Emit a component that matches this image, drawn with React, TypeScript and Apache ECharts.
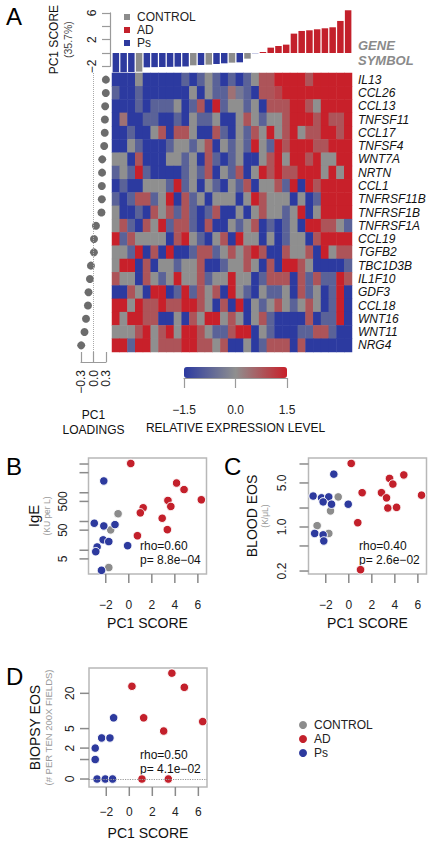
import React, { useEffect, useRef } from "react";
import * as echarts from "echarts";

const FONT = '"Liberation Sans", Arial, Helvetica, sans-serif';
const BLUE = "#2d3a9e";
const RED = "#c3202b";
const GRAY = "#8c8c8c";
const AXIS = "#9a9a9a";
const TICK = "#8a8a8a";
const BOX = "#b8b8b8";
const GROUP_COLORS: Record<string, string> = { CONTROL: GRAY, AD: RED, Ps: BLUE };
const GROUPS = ["CONTROL", "AD", "Ps"];

// PC1 scores of the 31 samples, sorted
const pc1Scores = [
  -2.9, -2.88, -2.85, -2.8, -2.15, -2.12, -2.1, -2.08, -2.05, -2.02, -1.85, -1.8, -1.75, -1.65, -1.55,
  -1.45, -1.4, -0.85, -0.05, 0.15, 0.8, 1.05, 1.25, 2.9, 3.3, 3.4, 3.55, 3.7, 3.85, 4.8, 6.4,
];
const sampleGroups = [
  "Ps", "Ps", "Ps", "CONTROL", "Ps", "Ps", "Ps", "Ps", "Ps", "Ps", "CONTROL", "Ps", "CONTROL", "Ps", "Ps",
  "CONTROL", "Ps", "CONTROL", "Ps", "AD", "AD", "AD", "AD", "AD", "AD", "AD", "AD", "AD", "AD", "AD", "AD",
];
const barLabels = [-2, 2, 6];

const genes = [
  "IL13", "CCL26", "CCL13", "TNFSF11", "CCL17", "TNFSF4", "WNT7A", "NRTN", "CCL1", "TNFRSF11B",
  "TNFRSF1B", "TNFRSF1A", "CCL19", "TGFB2", "TBC1D3B", "IL1F10", "GDF3", "CCL18", "WNT16", "WNT11", "NRG4",
];
const loadings = [
  0.297, 0.295, 0.28, 0.273, 0.27, 0.257, 0.21, 0.205, 0.2, 0.2, 0.19, 0.058, 0.012, 0.01, -0.062, -0.086,
  -0.12, -0.134, -0.18, -0.216, -0.295,
];

// relative expression (rows = genes, columns = samples)
const expr: number[][] = [
  [-1.5, -1.5, -1.5, 0, -1.5, -1.5, -1.5, -1.5, -1.5, -0.8, -1.5, -0.8, 0, -0.8, -1.5, -0.8, -1.5, -0.8, 0, 0.8, 0.8, 1.5, 1.5, 1.5, 1.5, 0.8, 1.5, 1.5, 1.5, 1.5, 1.5],
  [-0.8, -1.5, -1.5, -0.8, -1.5, -1.5, -1.5, -1.5, -1.5, -1.5, 0, -1.5, 0, -0.8, -0.8, 0.4, -0.4, -0.8, -1.5, 0.8, 0.8, 1.0, 1.5, 1.5, 1.5, 1.5, 1.5, 1.5, 1.5, 1.5, 1.5],
  [-1.5, -1.5, -1.5, -0.8, -1.5, -0.8, -0.8, -0.8, 0, -1.5, -0.8, 0.8, -1.5, 1.5, -0.8, 0, 0, -0.8, 0, -1.5, 0.8, 0.8, 0.8, 1.5, 1.5, 0.8, 0, 1.5, 1.5, 1.5, 1.5],
  [-1.5, 0.4, -1.5, -1.5, -0.8, -0.8, -1.5, -1.5, -0.8, -1.5, 0, -0.8, -0.8, 0, -1.5, -1.5, 0, 0.8, 0, -0.8, 0, 0, 0.8, 1.5, 1.5, 1.5, 0.8, 1.5, 0.8, 0.8, 1.5],
  [-1.5, -1.5, -0.8, -1.5, -1.5, 0, 0.8, -1.5, 0.8, 0.8, 0, -1.5, -1.5, 0.8, -0.8, -1.5, 0, -0.8, 0.8, 0, 1.5, 0, 0.8, 1.5, 0, 0.8, 0.8, 1.5, 1.5, 0.8, 1.5],
  [-1.5, -1.5, 0, -0.8, -1.5, -1.5, -1.5, -0.8, 0, 0, -0.8, 0, 0.8, -1.5, 0, -0.8, 0, -0.8, 1.5, 0, -0.8, 1.5, 0.8, 1.5, 1.5, 1.5, 0.8, 0.8, 1.5, 1.5, 1.5],
  [0, 0, -1.5, 0.8, -1.5, -1.5, -1.5, 0, 0, -0.8, 0, -1.5, 0.8, -0.8, -1.5, -0.8, 0, -1.5, -1.5, 0, 0.8, 1.5, 0, 1.5, 1.5, 0.8, 1.5, 0, 0, 1.5, 1.5],
  [-0.8, 0, -0.8, 1.5, -0.8, -1.5, -1.5, -1.5, -1.5, -0.8, 0, -0.8, 0.8, -1.5, 0, -0.8, 0.8, -1.5, 0, 1.5, 0.8, 1.5, 0.8, 0.8, 1.5, 1.5, 1.5, 0, 1.5, 0, 1.5],
  [-1.5, -0.8, -1.5, -1.5, 0, 0, 0, -0.8, 1.5, -0.8, 0, -1.5, 0, -0.8, -1.5, 0, -0.8, 0.8, -1.5, 0, 0, 0.8, -0.8, 1.5, -1.5, 1.5, 0.8, 1.5, 1.5, 1.5, 1.5],
  [-0.8, -1.5, -0.8, 0.8, 0.8, -0.8, 0, 1.5, -1.5, 0.8, -0.8, 0, -1.5, 0, 0, 0, -1.5, 0, 1.5, 0.8, 0, 0, 0, -1.5, 0, -1.5, -0.8, 1.5, 1.5, 1.5, 1.5],
  [0, -1.5, -1.5, -0.8, -1.5, 0.8, 0, 0.8, -0.8, 0.8, -0.8, -1.5, -0.8, 0.8, -1.5, -1.5, 0, -1.5, 0, 0.8, 0, 0, -0.8, 0, 1.5, -1.5, 0, 1.5, 1.5, 1.5, 1.5],
  [0, 0.8, -0.8, -1.5, 0.8, 0, 1.5, -0.8, 0.8, 0.8, -0.8, -1.5, 0.8, -1.5, -1.5, 0, -0.8, 0, 0.8, -1.5, -0.8, -1.5, -0.8, 0, -1.5, 1.5, 1.5, 0.8, 0.8, 0, -0.8],
  [1.5, -0.8, 0.8, 0, 0, 0, 0, -1.5, 0.8, 1.5, 0, -0.8, -1.5, 0, 0.8, -1.5, 1.5, 0, 0, -1.5, 0, -1.5, -0.8, 0, 0, -1.5, 0.8, 1.5, 1.5, 1.5, 1.5],
  [0, 0, -0.8, 1.5, -1.5, 0.8, -1.5, 1.5, -1.5, -1.5, -0.8, 0.8, 0.8, -0.8, 0, 0.8, 0, 0.8, 1.5, 0.8, -1.5, -1.5, 0.8, 0, 0, 0.8, -1.5, 1.5, 0, 0.8, 0.8],
  [0, 1.5, 1.5, -1.5, 0.8, -1.5, 0, 0, -0.8, 0, 0, 0.8, -1.5, -1.5, -0.8, 0, 0, 0.8, 0, -1.5, 0.8, -1.5, 1.5, 1.5, 0.8, 0, -1.5, -1.5, -1.5, -1.5, -0.8],
  [0.8, 0, 0, -1.5, 0.8, 0, -0.8, 0, 1.5, 0, 0, 0.8, -0.8, 0, 0, 1.5, 0, 0, -1.5, -0.8, 0.8, 0.8, 0.8, -1.5, 0.8, -0.8, 0.8, -0.8, -0.8, 1.5, 0.8],
  [-1.5, -1.5, 0.8, 0, -1.5, 1.5, 1.5, -1.5, -0.8, 1.5, -0.8, 0.8, 0, 0.8, -1.5, 1.5, 0, -0.8, -1.5, 0, -0.8, -0.8, 0, -1.5, 0.8, -0.8, 0, -1.5, -0.8, 1.5, -1.5],
  [1.5, 1.5, 0, 1.5, 0.8, 0.8, 1.5, 0.8, 0.8, 1.5, 1.5, 0.8, 0, -1.5, 0.8, -1.5, 1.5, -1.5, 0, -0.8, 0, 0.8, 0, -0.8, 0, 0.8, 0, -1.5, -0.8, 1.5, -1.5],
  [1.5, 0, 1.5, 1.5, 0.8, 0.8, -1.5, -1.5, 0, -1.5, 0.8, 0, 1.5, 1.5, 0, 0.8, 0, -1.5, 0, 0.8, -0.8, -1.5, -1.5, -1.5, -1.5, 0.8, -1.5, -0.8, -0.8, 1.5, -1.5],
  [0, 0, 0, 0.8, 1.5, 0, 0.8, 1.5, 0, 1.5, 1.5, 0.8, 0, -0.8, -0.8, 0.8, 1.5, 1.5, -1.5, 0, -0.8, -1.5, -1.5, -1.5, -0.8, -0.8, 0.8, 0.8, -0.8, -1.5, -1.5],
  [1.5, 1.5, -0.8, 1.5, 1.5, 0, 0.8, 0.8, 0.8, 1.5, 1.5, 0.8, 0.8, 0, 0.8, -1.5, -1.5, 0, -1.5, -0.8, 0.8, 0.8, 0.8, -1.5, 0.8, -1.5, -1.5, -1.5, -1.5, -1.5, -1.5],
];

// panel B: IgE (KU per L) vs PC1 score
const igeAD = [[0.17, 10450], [4.15, 2180], [4.8, 1290], [6.3, 570], [3.4, 540], [3.65, 334], [1.25, 300], [1.0, 200], [2.9, 130], [3.35, 52], [0.75, 32]];
const igePs = [[-2.17, 2570], [-3.0, 87], [-2.17, 70], [-1.2, 78], [-2.23, 23], [-1.74, 20], [-2.75, 13], [-2.87, 8.9], [-0.1, 14.4], [-2.37, 2.0]];
const igeControl = [[-0.93, 186], [-1.57, 51], [-1.74, 2.5]];
const igeTicks = [5, 10, 50, 100, 500, 1000, 5000, 10000];
const igeLabels = [5, 50, 500];

// panel C: blood eosinophils (K/uL)
const eosAD = [[0.21, 10.2], [4.78, 6.7], [3.54, 5.9], [3.83, 4.8], [1.16, 3.5], [2.84, 3.5], [3.28, 2.9], [6.32, 3.2], [3.39, 2.0], [4.15, 2.05], [0.78, 1.17], [1.02, 0.21]];
const eosPs = [[-1.3, 6.9], [-3.1, 3.1], [-2.37, 2.9], [-1.74, 3.0], [-2.23, 2.5], [-1.5, 2.3], [-0.05, 2.3], [-2.96, 0.79], [-2.23, 0.75], [-2.17, 0.6]];
const eosControl = [[-0.92, 3.0], [-1.59, 1.8], [-2.75, 1.05], [-1.74, 0.79]];
const eosTicks = [0.2, 0.5, 1, 2, 5, 10];
const eosLabels = [0.2, 1, 5];

// panel D: biopsy eosinophils (# per ten 200x fields)
const bioAD = [[3.7, 42], [0.23, 26], [4.78, 25], [1.25, 7.8], [6.38, 6.7], [2.99, 4.5], [1.1, 0], [3.39, 0]];
const bioPs = [[-1.36, 7.8], [-2.4, 3.3], [-1.68, 3.3], [-2.96, 2], [-2.96, 1], [-2.8, 0], [-2.09, 0], [-1.45, 0]];
const bioControl: number[][] = [];
const bioTicks = [0, 1, 2, 5, 20];
const bioLabels = [0, 2, 5, 20];

const scoreTicks = [-2, 0, 2, 4, 6];
const stats = [
  { panel: "B", rho: "rho=0.60", p: "p= 8.8e\u221204" },
  { panel: "C", rho: "rho=0.40", p: "p= 2.6e\u221202" },
  { panel: "D", rho: "rho=0.50", p: "p= 4.1e\u221202" },
];

const minus = (s: string) => s.replace("-", "\u2212");
const lg = (v: number) => Math.log10(v);
const lg1 = (v: number) => Math.log10(v + 1);

export default function App() {
  const ref = useRef<HTMLDivElement>(null);
  useEffect(() => {
    if (!ref.current) return;
    const chart = echarts.init(ref.current, null, { renderer: "svg" });

    const barGrid = { left: 112, top: 9.6, width: 240, height: 63.4 };
    const barMin = -3, barMax = 6.5;
    const pxPer = barGrid.height / (barMax - barMin);
    const axTop = barGrid.top + (barMax - 6) * pxPer;
    const axH = 8 * pxPer;

    const X_MIN = -3.5, X_MAX = 6.75;
    const yRanges: Record<number, [number, number]> = {
      5: [lg(1.49), lg(16200)],
      6: [-0.746, 1.095],
      7: [-0.123, 1.713],
    };

    const labelStyle = { color: "#222", fontSize: 12, fontFamily: FONT };

    const scatterX = (gi: number, gap: number, margin: number) => ({
      type: "value", gridIndex: gi, min: X_MIN, max: X_MAX, position: "bottom",
      axisLine: { show: false, onZero: false }, splitLine: { show: false }, axisTick: { show: false },
      axisLabel: { ...labelStyle, margin, customValues: scoreTicks, formatter: (v: number) => minus(String(v)) },
      name: "PC1 SCORE", nameLocation: "middle", nameGap: gap,
      nameTextStyle: { fontSize: 14, color: "#111", fontFamily: FONT },
    });
    const scatterY = (gi: number, labels: number[], fmt: (v: number) => string, name: string, gap: number, margin: number, big: number, small: number) => ({
      type: "value", gridIndex: gi, min: yRanges[gi][0], max: yRanges[gi][1], position: "left",
      axisLine: { show: false, onZero: false }, splitLine: { show: false }, axisTick: { show: false },
      axisLabel: { ...labelStyle, rotate: 90, margin, customValues: labels, formatter: fmt },
      name, nameLocation: "middle", nameRotate: 90, nameGap: gap,
      nameTextStyle: {
        fontFamily: FONT,
        rich: {
          a: { fontSize: big, color: "#111", fontFamily: FONT, lineHeight: big + 1 },
          b: { fontSize: small, color: "#999", fontFamily: FONT, lineHeight: small + 3 },
        },
      },
    });

    const scat = (name: string, gi: number, data: number[][], tf: (v: number) => number) => ({
      type: "scatter", name, xAxisIndex: gi, yAxisIndex: gi,
      data: data.map((d) => [d[0], tf(d[1])]),
      symbolSize: 8.5,
      itemStyle: { color: GROUP_COLORS[name], borderColor: "#fff", borderWidth: 1, opacity: 1 },
      z: 3,
    });

    const barSeries = ["Ps", "CONTROL", "AD"].map((g) => ({
      type: "bar", name: g, xAxisIndex: 0, yAxisIndex: 0, stack: "pc",
      data: pc1Scores.map((v, i) => (sampleGroups[i] === g ? v : "-")),
      itemStyle: { color: GROUP_COLORS[g] },
      barCategoryGap: "16%",
    }));

    const heatData: number[][] = [];
    expr.forEach((row, r) => row.forEach((v, c) => heatData.push([c, r, v])));

    const series: any[] = [
      ...barSeries,
      {
        type: "heatmap", xAxisIndex: 2, yAxisIndex: 2, data: heatData,
        itemStyle: { borderWidth: 0 }, emphasis: { disabled: true },
      },
      {
        type: "scatter", xAxisIndex: 3, yAxisIndex: 3,
        data: loadings.map((v, i) => [v, i]),
        symbolSize: 8, itemStyle: { color: "#474747" },
        markLine: {
          silent: true, symbol: "none", label: { show: false },
          lineStyle: { type: "dotted", color: "#aaa", width: 1 },
          data: [{ xAxis: 0 }],
        },
      },
      {
        type: "scatter", xAxisIndex: 7, yAxisIndex: 7, data: [], symbolSize: 0,
        markLine: {
          silent: true, symbol: "none", label: { show: false },
          lineStyle: { type: "dotted", color: "#999", width: 1.2 },
          data: [{ yAxis: lg1(0) }],
        },
      },
      scat("CONTROL", 5, igeControl, lg), scat("AD", 5, igeAD, lg), scat("Ps", 5, igePs, lg),
      scat("CONTROL", 6, eosControl, lg), scat("AD", 6, eosAD, lg), scat("Ps", 6, eosPs, lg),
      scat("CONTROL", 7, bioControl, lg1), scat("AD", 7, bioAD, lg1), scat("Ps", 7, bioPs, lg1),
    ];
    const heatIndex = 3;

    const box = { show: true, borderColor: BOX, borderWidth: 1.5, backgroundColor: "transparent" };

    const statTexts: any[] = [];
    const statPos: Record<string, [number, number]> = { B: [140, 546], C: [359, 546], D: [140, 755] };
    stats.forEach((s) => {
      const [x, y] = statPos[s.panel];
      statTexts.push({ type: "text", x, y, style: { text: s.rho, fontSize: 12, fontFamily: FONT, fill: "#111", textVerticalAlign: "middle" } });
      statTexts.push({ type: "text", x, y: y + 14, style: { text: s.p, fontSize: 12, fontFamily: FONT, fill: "#111", textVerticalAlign: "middle" } });
    });

    const baseGraphics: any[] = [
      { type: "text", x: 6, y: 4, style: { text: "A", fontSize: 24, fontFamily: FONT, fill: "#000" } },
      { type: "text", x: 6, y: 454, style: { text: "B", fontSize: 24, fontFamily: FONT, fill: "#000" } },
      { type: "text", x: 224, y: 454, style: { text: "C", fontSize: 24, fontFamily: FONT, fill: "#000" } },
      { type: "text", x: 6, y: 664, style: { text: "D", fontSize: 24, fontFamily: FONT, fill: "#000" } },
      { type: "text", x: 358, y: 45, style: { text: "GENE", fontSize: 13, fontWeight: "bold", fontStyle: "italic", fontFamily: FONT, fill: "#8a8a8a", textVerticalAlign: "middle" } },
      { type: "text", x: 358, y: 60, style: { text: "SYMBOL", fontSize: 13, fontWeight: "bold", fontStyle: "italic", fontFamily: FONT, fill: "#8a8a8a", textVerticalAlign: "middle" } },
      ...statTexts,
    ];

    const option: any = {
      animation: false,
      textStyle: { fontFamily: FONT },
      grid: [
        { ...barGrid, show: false },
        { left: barGrid.left, top: axTop, width: barGrid.width, height: axH, show: false },
        { left: 112, top: 73, width: 240, height: 279, show: false },
        { left: 81, top: 73, width: 25, height: 279, show: false },
        { left: 184, top: 367, width: 103, height: 11, show: false },
        { left: 88.5, top: 458, width: 118, height: 116, ...box },
        { left: 308.5, top: 458, width: 118, height: 116, ...box },
        { left: 89, top: 668, width: 118, height: 119, ...box },
      ],
      xAxis: [
        { type: "category", gridIndex: 0, data: pc1Scores.map((_, i) => String(i)), show: false },
        { type: "value", gridIndex: 1, show: false, min: 0, max: 1 },
        { type: "category", gridIndex: 2, data: pc1Scores.map((_, i) => String(i)), show: false },
        {
          type: "value", gridIndex: 3, min: -0.3, max: 0.3, interval: 0.3, offset: 10,
          axisLine: { show: true, onZero: false, lineStyle: { color: AXIS, width: 1.2 } },
          axisTick: { show: true, inside: true, length: 10, lineStyle: { color: AXIS, width: 1.2 } },
          axisLabel: { ...labelStyle, rotate: 90, margin: 8, formatter: (v: number) => minus(v.toFixed(1)) },
          splitLine: { show: false },
          name: "PC1\nLOADINGS", nameLocation: "middle", nameGap: 45,
          nameTextStyle: { fontSize: 12, lineHeight: 15, color: "#111", fontFamily: FONT },
        },
        {
          type: "value", gridIndex: 4, min: -1.5, max: 1.5, interval: 1.5,
          axisLine: { show: true, onZero: false, lineStyle: { color: AXIS, width: 1.2 } },
          axisTick: { show: true, length: 10, lineStyle: { color: AXIS, width: 1.2 } },
          axisLabel: { ...labelStyle, margin: 26, formatter: (v: number) => minus(v.toFixed(1)) },
          splitLine: { show: false },
          name: "RELATIVE EXPRESSION LEVEL", nameLocation: "middle", nameGap: 44,
          nameTextStyle: { fontSize: 12, color: "#111", fontFamily: FONT },
        },
        scatterX(5, 42, 25),
        scatterX(6, 42, 25),
        scatterX(7, 39, 19),
      ],
      yAxis: [
        { type: "value", gridIndex: 0, min: barMin, max: barMax, show: false },
        {
          type: "value", gridIndex: 1, min: -2, max: 6, interval: 2, offset: 2,
          axisLine: { show: true, onZero: false, lineStyle: { color: AXIS, width: 1.2 } },
          axisTick: { show: true, length: 8, lineStyle: { color: AXIS, width: 1.2 } },
          axisLabel: { ...labelStyle, rotate: 90, margin: 12, formatter: (v: number) => (barLabels.includes(v) ? minus(String(v)) : "") },
          splitLine: { show: false },
          name: "{a|PC1 SCORE}\n{b|(35.7%)}", nameLocation: "middle", nameRotate: 90, nameGap: 35,
          nameTextStyle: {
            rich: {
              a: { fontSize: 12, color: "#111", fontFamily: FONT, lineHeight: 14 },
              b: { fontSize: 10.5, color: "#444", fontFamily: FONT, lineHeight: 14 },
            },
          },
        },
        {
          type: "category", gridIndex: 2, data: genes, inverse: true, position: "right",
          axisLine: { show: false }, axisTick: { show: false },
          axisLabel: { color: "#111", fontSize: 12, fontStyle: "italic", fontFamily: FONT, margin: 6, interval: 0 },
        },
        { type: "category", gridIndex: 3, data: genes, inverse: true, show: false },
        { type: "value", gridIndex: 4, show: false, min: 0, max: 1 },
        scatterY(5, igeLabels.map(lg), (v) => String(Math.round(Math.pow(10, v))), "{a|IgE}\n{b|(KU per L)}", 36, 20, 15, 8.5),
        scatterY(6, eosLabels.map(lg), (v) => Math.pow(10, v).toFixed(1), "{a|BLOOD EOS}\n{b|(K/\u03bcL)}", 38, 21, 14, 8.5),
        scatterY(7, bioLabels.map(lg1), (v) => String(Math.round(Math.pow(10, v) - 1)), "{a|BIOPSY EOS}\n{b|(# PER TEN 200X FIELDS)}", 34, 13, 14, 9.5),
      ],
      visualMap: {
        type: "continuous", min: -1.5, max: 1.5, seriesIndex: heatIndex,
        orient: "horizontal", left: 184, top: 367, itemWidth: 11, itemHeight: 103,
        calculable: false, padding: 0, text: null, showLabel: false,
        inRange: { color: ["#2c3aa0", "#8f8f8f", "#c8202a"] },
      },
      legend: [
        {
          data: GROUPS, icon: "rect", orient: "vertical", left: 119, top: 6,
          itemWidth: 6, itemHeight: 6, itemGap: 1, selectedMode: false,
          textStyle: { fontSize: 12, color: "#222", fontFamily: FONT, padding: [0, 0, 0, 2] },
        },
        {
          data: GROUPS, icon: "circle", orient: "vertical", left: 294, top: 714,
          itemWidth: 8, itemHeight: 8, itemGap: 2, selectedMode: false,
          textStyle: { fontSize: 12, color: "#222", fontFamily: FONT, padding: [0, 0, 0, 2] },
        },
      ],
      graphic: baseGraphics,
      series,
    };
    chart.setOption(option);

    // tick marks placed through the axes' own scales
    const tickLines: any[] = [];
    const addTicks = (gi: number, vals: number[], dir: "x" | "y") => {
      vals.forEach((v) => {
        const pt = chart.convertToPixel({ gridIndex: gi } as any, dir === "y" ? [X_MIN, v] : [v, yRanges[gi][0]]) as number[];
        if (!pt) return;
        const shape = dir === "y"
          ? { x1: pt[0] - 9, y1: pt[1], x2: pt[0], y2: pt[1] }
          : { x1: pt[0], y1: pt[1], x2: pt[0], y2: pt[1] + 9 };
        tickLines.push({ type: "line", shape, silent: true, style: { stroke: TICK, lineWidth: 1.5 } });
      });
    };
    addTicks(5, scoreTicks, "x");
    addTicks(6, scoreTicks, "x");
    addTicks(7, scoreTicks, "x");
    addTicks(5, igeTicks.map(lg), "y");
    addTicks(6, eosTicks.map(lg), "y");
    addTicks(7, bioTicks.map(lg1), "y");
    chart.setOption({ graphic: [...baseGraphics, ...tickLines] });

    return () => chart.dispose();
  }, []);
  return <div ref={ref} style={{ position: "absolute", left: 0, top: 0, width: 434, height: 844 }} />;
}
